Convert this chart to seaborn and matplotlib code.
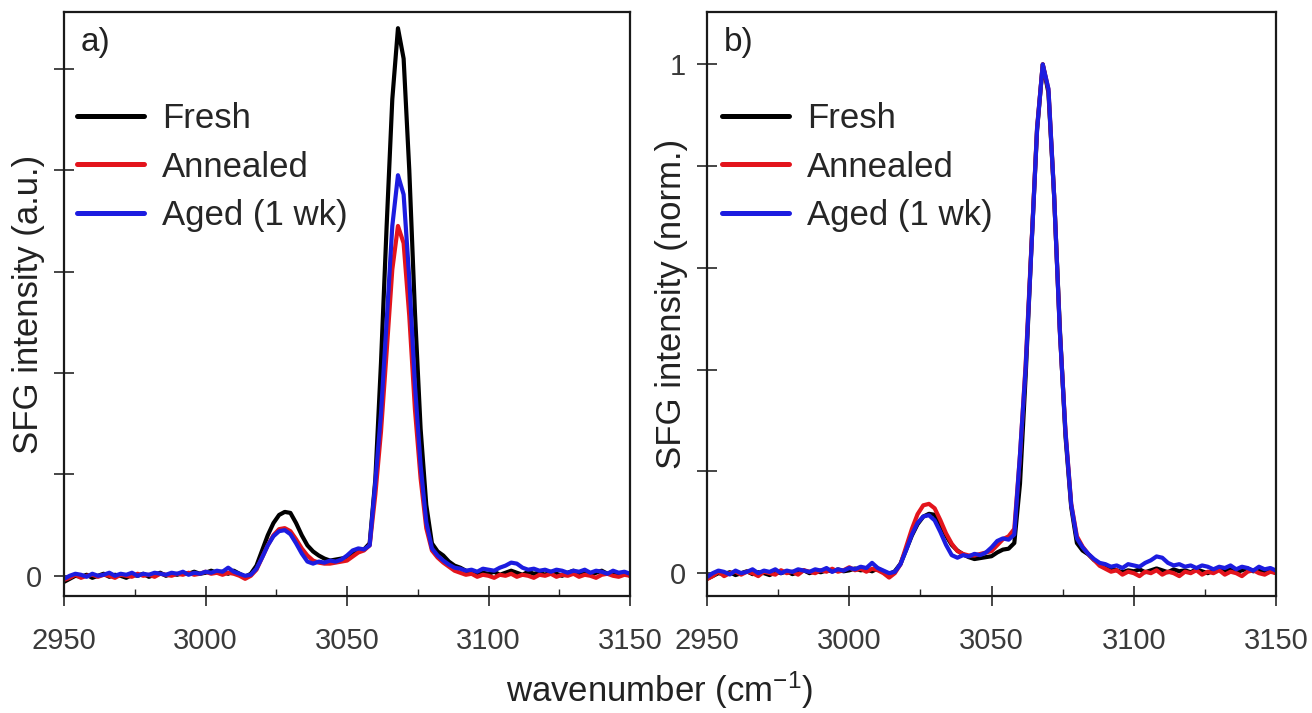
import numpy as np
import pandas as pd
import matplotlib
matplotlib.use("Agg")
import matplotlib.pyplot as plt
import seaborn as sns
from matplotlib.ticker import MultipleLocator, FixedLocator

# ---------------- data ----------------
wavenumber = np.arange(2950, 3151, 2)

fresh_a = [
    -0.06, -0.03, 0.00, -0.01, 0.01, -0.02, 0.00, 0.02, -0.01, 0.01,
    0.00, -0.02, 0.01, 0.00, 0.02, -0.01, 0.01, 0.03, 0.00, 0.02,
    0.01, 0.03, 0.02, 0.04, 0.02, 0.03, 0.05, 0.03, 0.04, 0.02,
    0.05, 0.02, -0.01, 0.02, 0.10, 0.25, 0.40, 0.52, 0.60, 0.63,
    0.62, 0.52, 0.40, 0.30, 0.24, 0.20, 0.17, 0.15, 0.16, 0.17,
    0.18, 0.22, 0.25, 0.26, 0.32, 0.95, 2.10, 3.45, 4.70, 5.40,
    5.10, 4.00, 2.60, 1.45, 0.70, 0.32, 0.24, 0.20, 0.14, 0.10,
    0.08, 0.05, 0.03, 0.01, 0.03, 0.02, 0.04, 0.01, 0.03, 0.05,
    0.03, 0.01, 0.04, 0.02, 0.03, 0.01, 0.04, 0.02, 0.00, 0.03,
    0.05, 0.02, 0.04, 0.01, 0.03, 0.05, 0.02, 0.04, 0.01, 0.03,
    0.00,
]
annealed_a = [
    -0.04, -0.02, 0.01, -0.02, 0.00, 0.01, -0.01, 0.01, 0.00, -0.02,
    0.01, 0.00, -0.01, 0.02, 0.00, 0.01, -0.01, 0.02, 0.01, 0.00,
    0.02, 0.01, 0.03, 0.01, 0.02, 0.04, 0.02, 0.03, 0.01, 0.03,
    0.02, 0.00, -0.03, 0.00, 0.06, 0.18, 0.30, 0.40, 0.46, 0.47,
    0.44, 0.36, 0.27, 0.20, 0.15, 0.13, 0.12, 0.12, 0.13, 0.14,
    0.15, 0.19, 0.23, 0.25, 0.30, 0.80, 1.42, 2.21, 3.02, 3.45,
    3.28, 2.56, 1.64, 0.96, 0.47, 0.25, 0.18, 0.13, 0.09, 0.05,
    0.03, 0.01, 0.02, -0.01, 0.01, 0.00, -0.02, 0.01, 0.00, 0.02,
    -0.01, 0.01, 0.00, -0.02, 0.01, 0.00, 0.02, -0.01, 0.01, 0.00,
    0.02, -0.01, 0.01, 0.00, -0.02, 0.01, 0.02, 0.00, -0.01, 0.01,
    0.00,
]
aged_a = [
    -0.03, 0.00, 0.02, 0.01, -0.01, 0.02, 0.00, 0.01, 0.03, 0.00,
    0.02, 0.01, 0.03, 0.00, 0.02, 0.01, 0.03, 0.02, 0.01, 0.03,
    0.02, 0.04, 0.01, 0.03, 0.02, 0.04, 0.03, 0.05, 0.04, 0.08,
    0.04, 0.02, 0.00, 0.01, 0.07, 0.18, 0.30, 0.39, 0.44, 0.45,
    0.41, 0.32, 0.22, 0.14, 0.12, 0.14, 0.13, 0.15, 0.14, 0.16,
    0.20, 0.25, 0.27, 0.26, 0.30, 0.92, 1.60, 2.51, 3.45, 3.95,
    3.76, 2.93, 1.88, 1.09, 0.53, 0.27, 0.20, 0.15, 0.11, 0.08,
    0.07, 0.05, 0.06, 0.04, 0.07, 0.06, 0.05, 0.08, 0.10, 0.13,
    0.12, 0.08, 0.06, 0.07, 0.05, 0.06, 0.04, 0.06, 0.05, 0.03,
    0.05, 0.04, 0.06, 0.03, 0.05, 0.04, 0.02, 0.05, 0.03, 0.04,
    0.02,
]

samples = ["Fresh", "Annealed", "Aged (1 wk)"]
colors = ["#000000", "#e3141c", "#1c1ce0"]
xticks = [2950, 3000, 3050, 3100, 3150]

# ---------------- tidy frames ----------------
raw = {"Fresh": np.array(fresh_a), "Annealed": np.array(annealed_a),
       "Aged (1 wk)": np.array(aged_a)}
frames_a, frames_b = [], []
for s in samples:
    frames_a.append(pd.DataFrame({"wn": wavenumber, "I": raw[s], "sample": s}))
    frames_b.append(pd.DataFrame({"wn": wavenumber, "I": raw[s] / raw[s].max(),
                                  "sample": s}))
df_a = pd.concat(frames_a, ignore_index=True)
df_b = pd.concat(frames_b, ignore_index=True)

# ---------------- style ----------------
sns.set_theme(style="ticks")
plt.rcParams["font.family"] = ["Liberation Sans", "DejaVu Sans"]
plt.rcParams["mathtext.fontset"] = "custom"
plt.rcParams["mathtext.rm"] = "Liberation Sans"
plt.rcParams["mathtext.default"] = "regular"

fig = plt.figure(figsize=(13.12, 7.13), dpi=100)
ax1 = fig.add_axes([0.0488, 0.1640, 0.4314, 0.8192])
ax2 = fig.add_axes([0.5389, 0.1640, 0.4337, 0.8192])

palette = dict(zip(samples, colors))
for ax, df, lx in ((ax1, df_a, 0.023), (ax2, df_b, 0.026)):
    sns.lineplot(data=df, x="wn", y="I", hue="sample", hue_order=samples,
                 palette=palette, linewidth=3.0, ax=ax, legend=True,
                 estimator=None, sort=False)
    ax.set_xlim(2950, 3150)
    ax.set_xticks(xticks)
    ax.xaxis.set_minor_locator(MultipleLocator(25))
    ax.tick_params(axis="x", which="major", direction="inout", length=14,
                   width=1.2, labelsize=21, labelcolor="#3a3a3a", pad=15)
    ax.tick_params(axis="x", which="minor", direction="in", length=5, width=1.0)
    ax.tick_params(axis="y", which="major", direction="inout", length=15,
                   width=1.2, labelsize=21, labelcolor="#3a3a3a", pad=8)
    for sp in ax.spines.values():
        sp.set_linewidth(1.6)
        sp.set_color("#1a1a1a")
    ax.set_xlabel("")
    h, l = ax.get_legend_handles_labels()
    for hh in h:
        hh.set_linewidth(3.6)
    ax.legend(h, l, loc="upper left", bbox_to_anchor=(lx, 0.846), frameon=False,
              fontsize=25, handlelength=1.93, handletextpad=0.52,
              labelspacing=0.45, borderaxespad=0.0, borderpad=0.0)

# panel a
ax1.set_ylim(-0.2, 5.56)
ax1.yaxis.set_major_locator(FixedLocator([0, 1, 2, 3, 4, 5]))
ax1.set_yticklabels(["0", "", "", "", "", ""])
ax1.set_ylabel("SFG intensity (a.u.)", fontsize=25, color="#222222")
ax1.yaxis.set_label_coords(-0.033, 0.5)
ax1.text(0.03, 0.975, "a)", transform=ax1.transAxes, va="top", ha="left",
         fontsize=24, color="#222222")

# panel b
ax2.set_ylim(-0.045, 1.103)
ax2.yaxis.set_major_locator(FixedLocator([0, 0.2, 0.4, 0.6, 0.8, 1.0]))
ax2.set_yticklabels(["0", "", "", "", "", "1"])
ax2.set_ylabel("SFG intensity (norm.)", fontsize=25, color="#222222")
ax2.yaxis.set_label_coords(-0.034, 0.5)
ax2.text(0.03, 0.975, "b)", transform=ax2.transAxes, va="top", ha="left",
         fontsize=24, color="#222222")

fig.text(0.503, 0.032, "wavenumber (cm$^{-1}$)", ha="center", va="center",
         fontsize=25, color="#222222")

fig.savefig("out.png", dpi=100)
